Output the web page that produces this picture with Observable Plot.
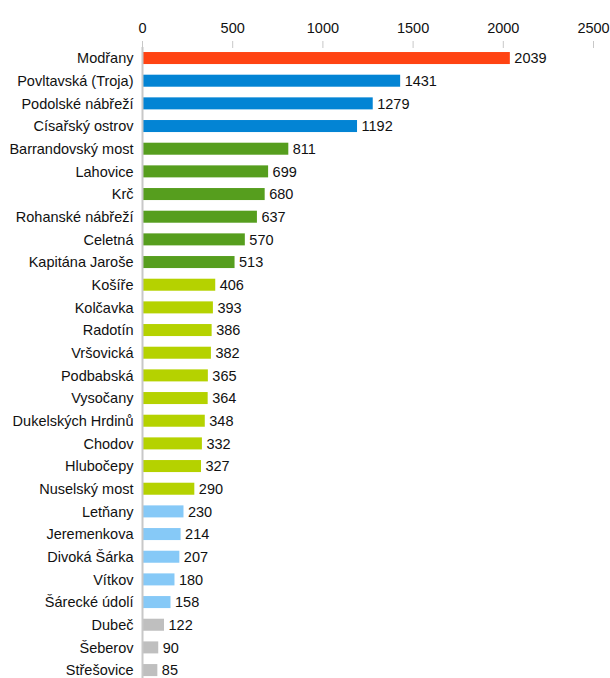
<!DOCTYPE html>
<html>
<head>
<meta charset="utf-8">
<script src="https://cdn.jsdelivr.net/npm/d3@7"></script>
<script src="https://cdn.jsdelivr.net/npm/@observablehq/plot@0.6"></script>
<style>
  html, body { margin: 0; padding: 0; background: #fff; }
  #chart svg { display: block; overflow: visible; }
</style>
</head>
<body>
<div id="chart"></div>
<script>
const names = ["Modřany","Povltavská (Troja)","Podolské nábřeží","Císařský ostrov","Barrandovský most","Lahovice","Krč","Rohanské nábřeží","Celetná","Kapitána Jaroše","Košíře","Kolčavka","Radotín","Vršovická","Podbabská","Vysočany","Dukelských Hrdinů","Chodov","Hlubočepy","Nuselský most","Letňany","Jeremenkova","Divoká Šárka","Vítkov","Šárecké údolí","Dubeč","Šeberov","Střešovice"];
const values = [2039,1431,1279,1192,811,699,680,637,570,513,406,393,386,382,365,364,348,332,327,290,230,214,207,180,158,122,90,85];
const groups = ["a","b","b","b","c","c","c","c","c","c","d","d","d","d","d","d","d","d","d","d","e","e","e","e","e","f","f","f"];
const groupKeys = ["a","b","c","d","e","f"];
const groupColors = ["#ff4312","#0384d4","#569e1e","#b5d200","#86c9f7","#bfbfbf"];
const xTicks = [0,500,1000,1500,2000,2500];

const data = names.map((n, i) => ({name: n, value: values[i], group: groups[i]}));

const FS = 14.5;
const chart = Plot.plot({
  width: 610,
  height: 678,
  marginLeft: 142,
  marginRight: 17,
  marginTop: 47,
  marginBottom: 0,
  style: {fontFamily: "'Liberation Sans', Arial, sans-serif", fontSize: FS + "px", color: "#111"},
  x: {domain: [0, 2500], range: [142, 593], ticks: xTicks, label: null},
  y: {domain: names, range: [46.7, 681.4], round: false, paddingInner: 0.47, paddingOuter: 0.235, label: null},
  color: {domain: groupKeys, range: groupColors},
  marks: [
    Plot.gridX(xTicks.slice(1), {stroke: "#d0d0d0", strokeOpacity: 1, strokeDasharray: "5,4", y1: 47, y2: 678}),
    Plot.barX(data, {x: "value", y: "name", fill: "group"}),
    Plot.ruleX([0], {stroke: "#c8c8c8", strokeWidth: 2}),
    Plot.ruleY([0], {frameAnchor: "top", x1: 0, x2: 2500, stroke: "#c8c8c8", strokeWidth: 2}),
    Plot.axisX({anchor: "top", ticks: xTicks, tickSize: 7, tickPadding: 8, stroke: "#c8c8c8", tickFormat: d => String(d), fontSize: FS, fill: "#111"}),
    Plot.axisY({tickSize: 0, tickPadding: 9, fontSize: FS, fill: "#111"}),
    Plot.text(data, {x: "value", y: "name", text: d => String(d.value), textAnchor: "start", dx: 4, fontSize: FS, fill: "#111"})
  ]
});
document.getElementById("chart").appendChild(chart);
</script>
</body>
</html>
